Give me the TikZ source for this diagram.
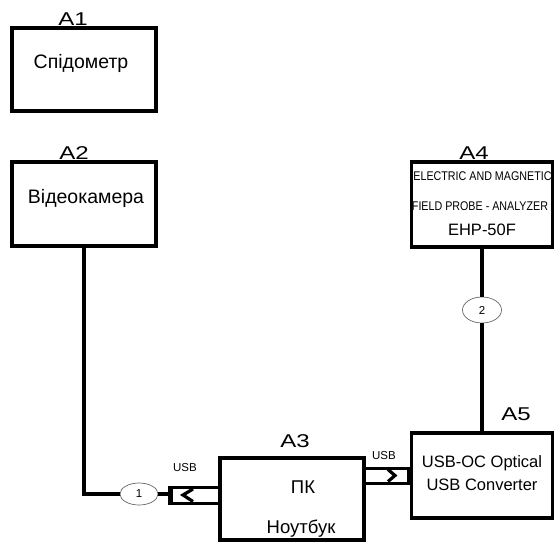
\documentclass[tikz,border=0pt]{standalone}
\usepackage{fontspec}
\setmainfont{Liberation Sans}
\newfontfamily\shyrokyj[FakeStretch=1.3]{Liberation Sans}
\newfontfamily\vuzkyj[FakeStretch=0.85]{Liberation Sans}
\usetikzlibrary{calc,positioning,shapes.geometric}
\definecolor{ovalgray}{rgb}{0.40,0.40,0.40}
\tikzset{
  blok/.style={
    draw=black,
    line width=3.2pt,
    minimum width=144pt,
    minimum height=84pt,
    inner sep=0pt
  },
  mitka/.style={
    anchor=base,
    inner sep=0pt,
    font=\shyrokyj\fontsize{18.5}{18}\selectfont
  },
  napys/.style={
    anchor=base,
    inner sep=0pt,
    font=\fontsize{19.5}{20}\selectfont
  },
  dribno/.style={
    anchor=base,
    inner sep=0pt,
    font=\fontsize{11.5}{12}\selectfont
  },
  vylka/.style={
    draw=black,
    line width=3pt,
    inner sep=0pt
  },
  kruzhok/.style={
    ellipse,
    draw=ovalgray,
    line width=.7pt,
    inner sep=0pt,
    font=\fontsize{11.5}{12}\selectfont
  },
  provid/.style={
    line width=3.2pt,
    black
  }
}

\begin{document}
\begin{tikzpicture}[x=1pt,y=-1pt]
\useasboundingbox (0,0) rectangle (554,542);
% blocks
\node[blok,minimum height=83pt] (a1) at (84,69.5) {};
\node[blok] (a2) at (84,204) {};
\node[blok,minimum height=82pt] (a3) at (292,499) {};
\node[blok,minimum width=141pt,minimum height=85pt] (a4) at (482,204.5) {};
\node[blok,minimum width=141pt,minimum height=85pt] (a5) at (482,475.5) {};
% block labels
\node[mitka] (l1) at (73,25) {A1};
\node[mitka] (l2) at (74,159) {A2};
\node[mitka] (l3) at (295,447) {A3};
\node[mitka] (l4) at (474,159) {A4};
\node[mitka] (l5) at (516,420) {A5};
% texts
\node[napys] (t1) at (81,68) {Спідометр};
\node[napys] (t2) at (86,203) {Відеокамера};
\node[napys,font=\fontsize{18.5}{20}\selectfont] (t3a) at (303,493) {ПК};
\node[napys,font=\fontsize{18.5}{20}\selectfont] (t3b) at (301,533) {Ноутбук};
\node[napys,font=\vuzkyj\fontsize{12.6}{13}\selectfont] (t4a) at (482.5,180) {ELECTRIC AND MAGNETIC};
\node[napys,font=\vuzkyj\fontsize{12.6}{13}\selectfont] (t4b) at (480,210) {FIELD PROBE - ANALYZER};
\node[napys,font=\fontsize{16.5}{17}\selectfont] (t4c) at (482,235) {EHP-50F};
\node[napys,font=\fontsize{16.5}{17}\selectfont] (t5a) at (482,467) {USB-OC Optical};
\node[napys,font=\fontsize{16.5}{17}\selectfont] (t5b) at (482,490) {USB Converter};
% usb plugs
\node[vylka,minimum width=50pt,minimum height=16pt] (usb1) at (195,495) {};
\node[vylka,minimum width=46pt,minimum height=15pt] (usb2) at (387,475.5) {};
\node[dribno] (u1) at (185,471) {USB};
\node[dribno] (u2) at (384,459) {USB};
\draw[line width=4.5pt] ($(usb1.north west)+(2,0)$) -- ($(usb1.south west)+(2,0)$);
\draw[line width=4.5pt] ($(usb2.north east)+(-2,0)$) -- ($(usb2.south east)+(-2,0)$);
\draw[provid] ($(usb1.center)+(-2,-6)$) -- ($(usb1.center)+(-12,0)$) -- ($(usb1.center)+(-2,6.5)$);
\draw[provid] ($(usb2.center)+(1,-6)$) -- ($(usb2.center)+(8,0)$) -- ($(usb2.center)+(1,6)$);
% markers
\node[kruzhok,minimum width=38pt,minimum height=22pt] (k1) at (139,494) {1};
\node[kruzhok,minimum width=39pt,minimum height=26pt] (k2) at (482,310) {2};
% wires
\draw[provid] (a2.south) |- (k1.west);
\draw[provid] (k1.east) -- (k1.east -| usb1.west);
\draw[provid] (a4.south) -- (k2.north);
\draw[provid] (k2.south) -- (a5.north);
\end{tikzpicture}
\end{document}
